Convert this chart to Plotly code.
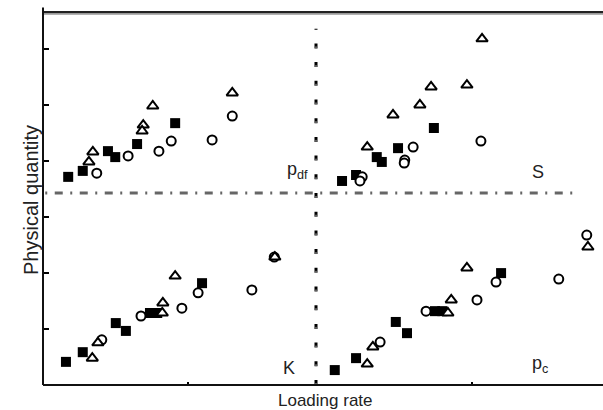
import plotly.graph_objects as go

# ---- data (loading rate, physical quantity) per panel ----
# upper-left panel (p_df)
pdf_sq_x = [0.45, 0.71, 1.16, 1.29, 1.68, 2.36]
pdf_sq_y = [5.58, 5.74, 6.27, 6.11, 6.46, 7.02]
pdf_tri_x = [0.89, 0.82, 1.96, 1.79, 1.77, 3.38]
pdf_tri_y = [6.25, 5.98, 7.48, 6.97, 6.81, 7.83]
pdf_cir_x = [0.96, 1.52, 2.07, 2.29, 3.02, 3.38]
pdf_cir_y = [5.68, 6.14, 6.27, 6.54, 6.57, 7.21]

# upper-right panel (S)
s_sq_x = [5.34, 5.59, 5.96, 6.05, 6.34, 6.98]
s_sq_y = [5.47, 5.63, 6.11, 5.98, 6.35, 6.89]
s_tri_x = [5.79, 6.25, 6.73, 6.93, 7.57, 7.84]
s_tri_y = [6.38, 7.24, 7.51, 7.99, 8.04, 9.28]
s_cir_x = [5.70, 5.66, 6.61, 6.46, 6.45, 7.82]
s_cir_y = [5.58, 5.47, 6.38, 6.03, 5.95, 6.54]

# lower-left panel (K)
k_sq_x = [0.41, 0.71, 1.30, 1.48, 1.91, 2.04, 2.84]
k_sq_y = [0.62, 0.88, 1.66, 1.45, 1.93, 1.93, 2.73]
k_tri_x = [0.88, 0.98, 2.36, 2.14, 2.13, 4.14]
k_tri_y = [0.72, 1.13, 2.92, 2.20, 1.93, 3.43]
k_cir_x = [1.05, 1.75, 2.48, 2.77, 3.73, 4.13]
k_cir_y = [1.21, 1.85, 2.06, 2.47, 2.55, 3.43]

# lower-right panel (p_c)
pc_sq_x = [5.21, 5.59, 6.30, 6.50, 7.00, 7.13, 8.18]
pc_sq_y = [0.40, 0.72, 1.69, 1.39, 1.98, 1.98, 3.00]
pc_tri_x = [5.79, 5.89, 7.57, 7.29, 7.23, 9.73]
pc_tri_y = [0.56, 1.02, 3.14, 2.28, 1.93, 3.70]
pc_cir_x = [6.02, 6.84, 7.75, 8.09, 9.21, 9.71]
pc_cir_y = [1.15, 1.98, 2.28, 2.76, 2.84, 4.02]

y_ticks = [1.5, 3.0, 4.5, 6.0, 7.5, 9.0]
x_ticks = [2.59, 7.66]

panel_labels = ["p<sub>df</sub>", "S", "K", "p<sub>c</sub>"]
label_x = [4.55, 8.84, 4.40, 8.88]
label_y = [5.76, 5.71, 0.46, 0.54]

v_div = 4.875
h_div = 5.15

FONT = "Liberation Sans, Arial, sans-serif"

fig = go.Figure()

sq_style = dict(symbol="square", size=10, color="black", line=dict(color="black", width=0))
tri_style = dict(symbol="triangle-up", size=10, color="white", line=dict(color="black", width=2))
cir_style = dict(symbol="circle", size=9, color="white", line=dict(color="black", width=2))

panels = [
    (pdf_sq_x, pdf_sq_y, pdf_tri_x, pdf_tri_y, pdf_cir_x, pdf_cir_y),
    (s_sq_x, s_sq_y, s_tri_x, s_tri_y, s_cir_x, s_cir_y),
    (k_sq_x, k_sq_y, k_tri_x, k_tri_y, k_cir_x, k_cir_y),
    (pc_sq_x, pc_sq_y, pc_tri_x, pc_tri_y, pc_cir_x, pc_cir_y),
]
for sqx, sqy, trx, tr_y, cx, cy in panels:
    fig.add_trace(go.Scatter(x=sqx, y=sqy, mode="markers", marker=sq_style, showlegend=False))
    fig.add_trace(go.Scatter(x=cx, y=cy, mode="markers", marker=cir_style, showlegend=False))
    fig.add_trace(go.Scatter(x=trx, y=tr_y, mode="markers", marker=tri_style, showlegend=False))

# dividing lines: vertical dash-dot (black dashes, faint dots)
fig.add_shape(type="line", xref="x", yref="y", x0=v_div, x1=v_div, y0=0.0, y1=9.55,
              line=dict(color="black", width=3, dash="5px,13.7px"), layer="below")
fig.add_shape(type="line", xref="x", yref="y", x0=v_div, x1=v_div, y0=0.0, y1=9.3,
              line=dict(color="#bbbbbb", width=1, dash="2px,16.7px"), layer="below")
# horizontal dash-dot
fig.add_shape(type="line", xref="x", yref="y", x0=0.04, x1=9.55, y0=h_div, y1=h_div,
              line=dict(color="#666666", width=3, dash="2px,7.5px,8px,7.5px"), layer="below")

# frame: top double line, left & bottom axes
fig.add_shape(type="line", xref="paper", yref="paper", x0=0, x1=1, y0=0.995, y1=0.995,
              line=dict(color="#999999", width=2))
fig.add_shape(type="line", xref="paper", yref="paper", x0=0, x1=1, y0=1.0, y1=1.0,
              line=dict(color="#222222", width=2))
fig.add_shape(type="line", xref="paper", yref="paper", x0=0, x1=0, y0=0, y1=1.012,
              line=dict(color="#111111", width=2))
fig.add_shape(type="line", xref="paper", yref="paper", x0=0, x1=1, y0=0, y1=0,
              line=dict(color="#111111", width=2))

for t, lx, ly in zip(panel_labels, label_x, label_y):
    fig.add_annotation(x=lx, y=ly, xref="x", yref="y", text=t, showarrow=False,
                       font=dict(family=FONT, size=18, color="#222222"))

fig.add_annotation(x=(18 - 43) / 560, y=(385 - 200) / 373, xref="paper", yref="paper",
                   text="Physical quantity", textangle=-90, showarrow=False,
                   font=dict(family=FONT, size=20, color="#222222"))
fig.add_annotation(x=(325 - 43) / 560, y=(385 - 400) / 373, xref="paper", yref="paper",
                   text="Loading rate", showarrow=False, yanchor="middle",
                   font=dict(family=FONT, size=17, color="#222222"))

fig.update_xaxes(range=[0, 10], showgrid=False, zeroline=False, showline=False,
                 tickmode="array", tickvals=x_ticks, showticklabels=False,
                 ticks="inside", ticklen=3, tickwidth=2, tickcolor="black")
fig.update_yaxes(range=[0, 10], showgrid=False, zeroline=False, showline=False,
                 tickmode="array", tickvals=y_ticks, showticklabels=False,
                 ticks="inside", ticklen=6, tickwidth=2, tickcolor="black")

fig.update_layout(width=603, height=410, margin=dict(l=43, r=0, t=12, b=25),
                  plot_bgcolor="white", paper_bgcolor="white")

fig.write_html("out.html", post_script="document.body.style.margin='0';",
               config={"displayModeBar": False})
